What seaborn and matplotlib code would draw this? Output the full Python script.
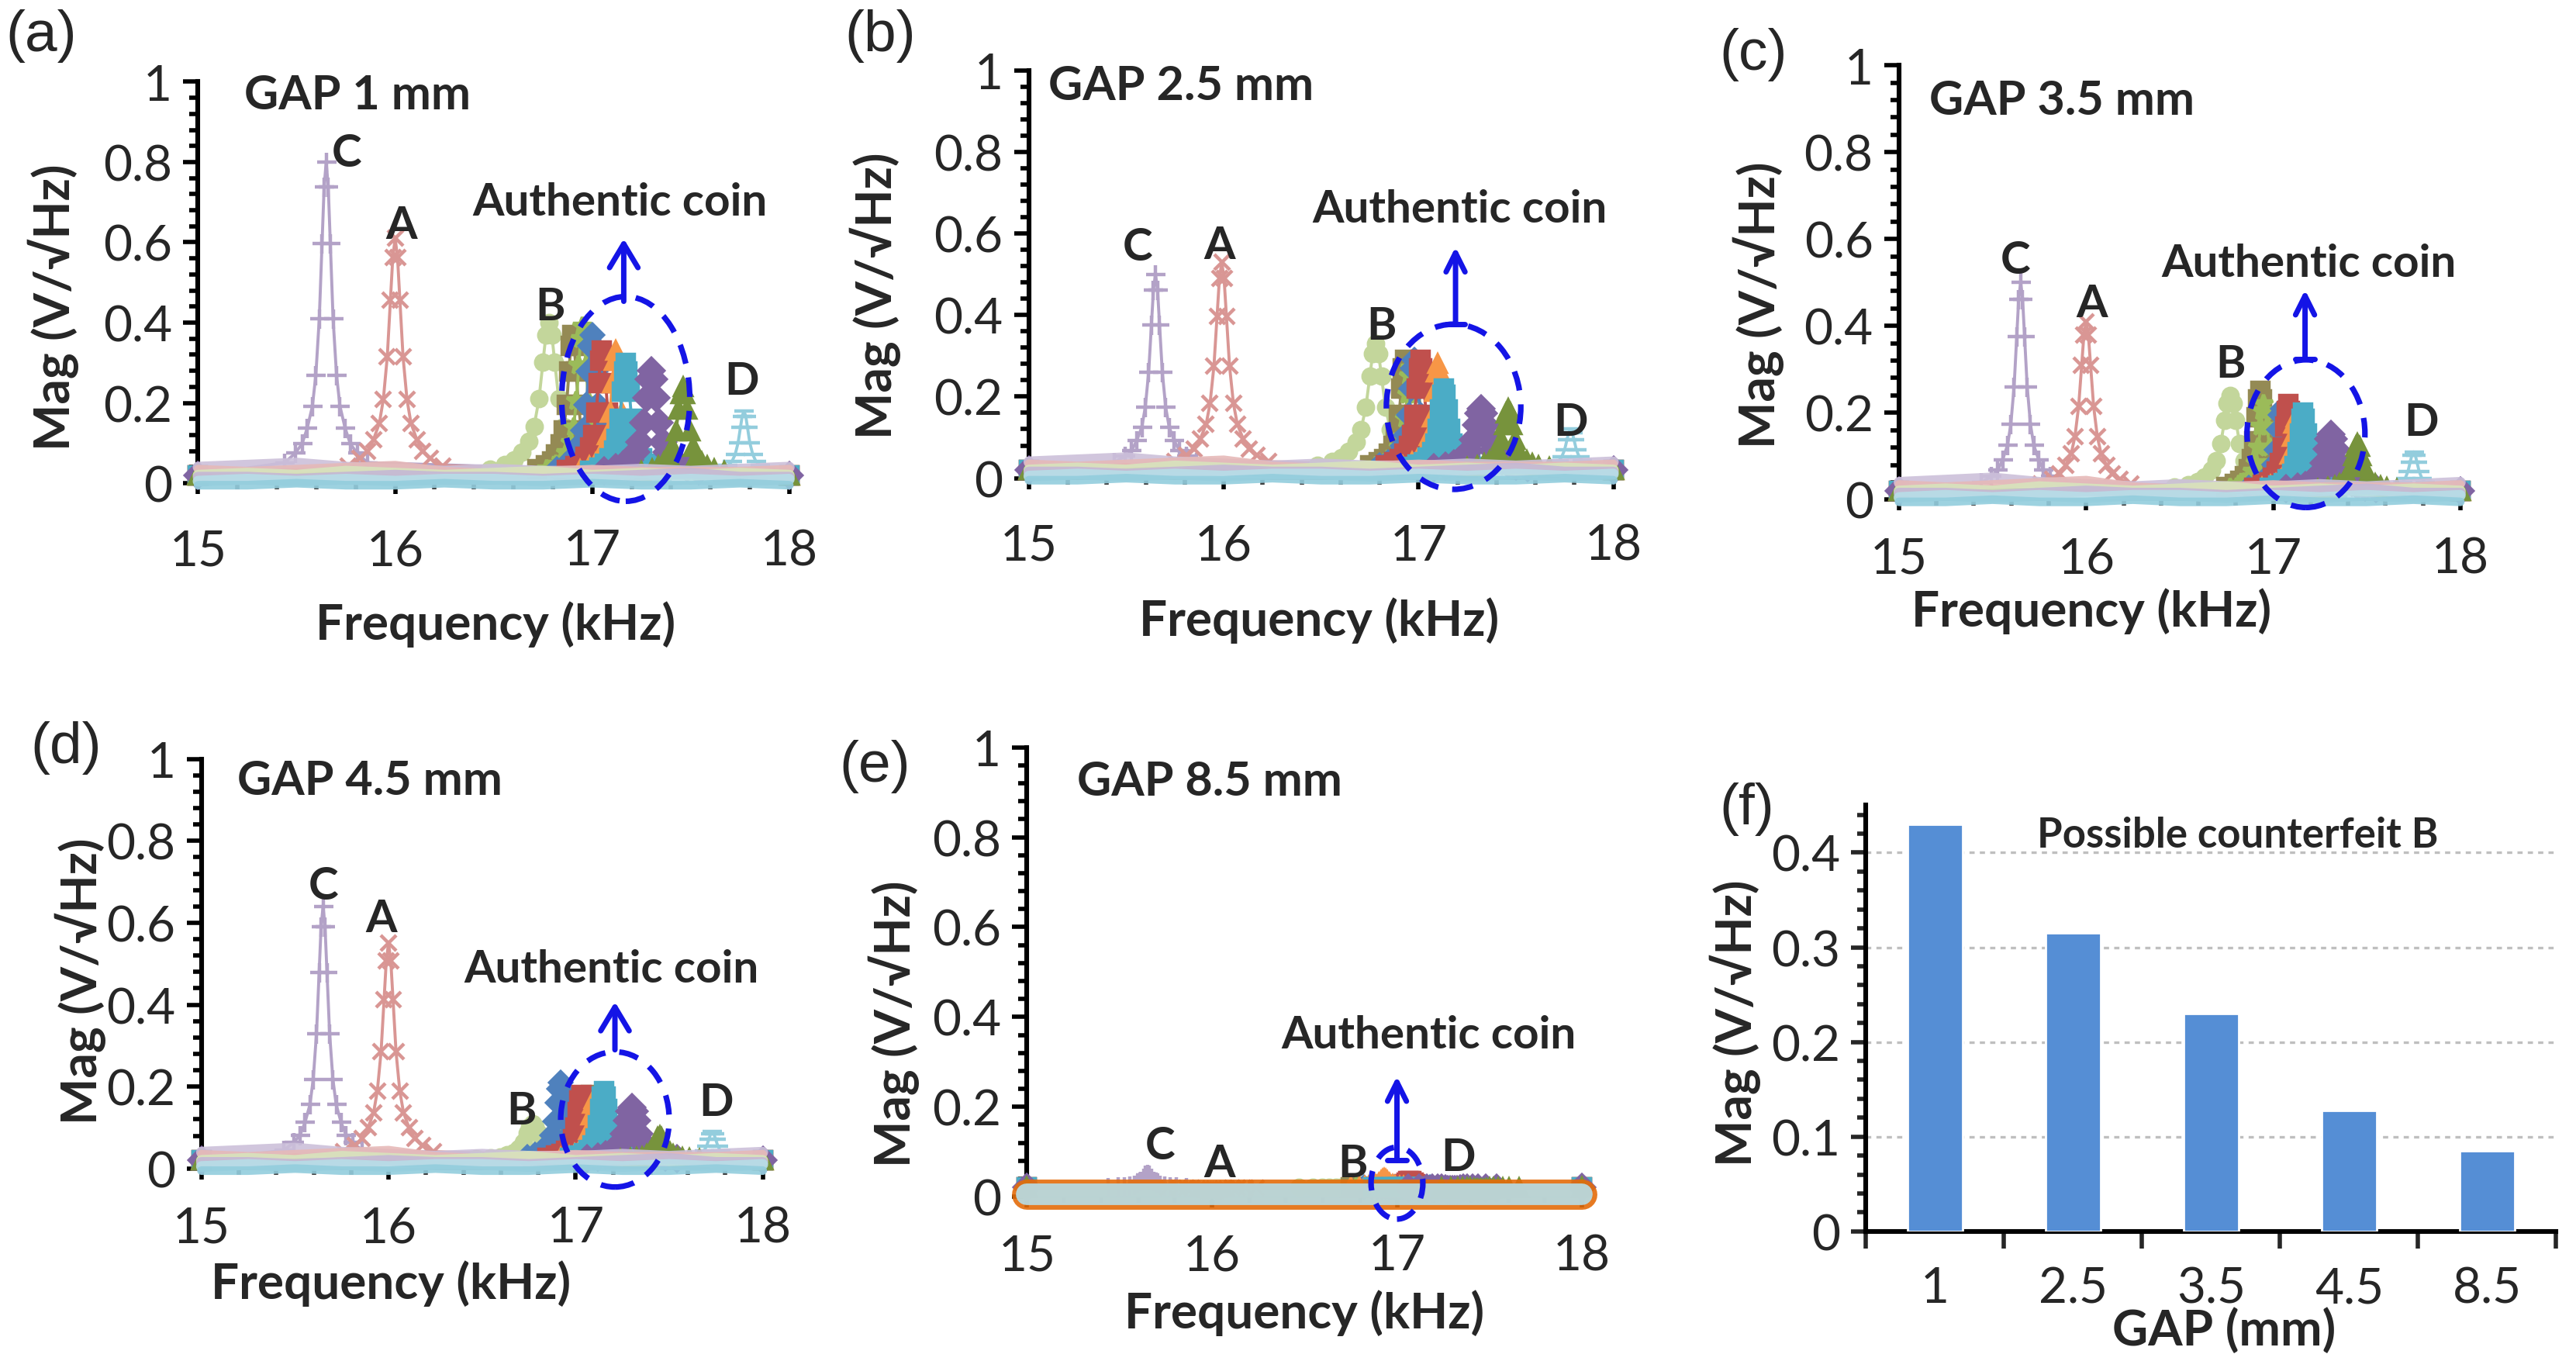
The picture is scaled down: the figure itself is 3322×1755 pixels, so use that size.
import numpy as np
import pandas as pd
import matplotlib
matplotlib.use('Agg')
import matplotlib.pyplot as plt
import seaborn as sns
from matplotlib.patches import Ellipse
from matplotlib.ticker import AutoMinorLocator, FuncFormatter, MultipleLocator

sns.set_style('ticks')
plt.rcParams['font.family'] = ['Lato', 'DejaVu Sans']

# ---- data ----
SERIES = ['C', 'A', 'B', 'D', 'K1', 'K2', 'K3', 'K4', 'K5', 'K6', 'K7', 'K8']

# shared resonance profile (offset in half-widths, fraction of peak height)
PEAK_OFFSETS = [-6, -4.5, -3.5, -2.75, -2, -1.5, -1, -0.6, -0.3, 0,
                0.3, 0.6, 1, 1.5, 2, 2.75, 3.5, 4.5, 6]
PEAK_SHAPE = [0.04, 0.07, 0.1, 0.15, 0.22, 0.32, 0.5, 0.74, 0.92, 1,
              0.92, 0.74, 0.5, 0.32, 0.22, 0.15, 0.1, 0.07, 0.04]
HALF_WIDTH = [0.035, 0.04, 0.05, 0.03, 0.03, 0.03, 0.03, 0.03, 0.03, 0.03, 0.04, 0.035]

# peak centres (kHz) and peak magnitudes for every gap
CENTERS_1 = [15.65, 16.0, 16.78, 17.77, 16.9, 16.95, 17.0, 17.05, 17.12, 17.17, 17.3, 17.46]
HEIGHTS_1 = [0.80, 0.61, 0.40, 0.18, 0.37, 0.39, 0.37, 0.33, 0.33, 0.30, 0.28, 0.24]
CENTERS_25 = [15.65, 15.99, 16.78, 17.78, 16.93, 16.96, 16.98, 17.01, 17.1, 17.13, 17.32, 17.46]
HEIGHTS_25 = [0.50, 0.53, 0.33, 0.12, 0.29, 0.27, 0.29, 0.29, 0.28, 0.22, 0.17, 0.17]
CENTERS_35 = [15.65, 16.0, 16.77, 17.75, 16.93, 16.95, 17.05, 17.08, 17.12, 17.16, 17.31, 17.45]
HEIGHTS_35 = [0.50, 0.41, 0.24, 0.11, 0.25, 0.22, 0.21, 0.22, 0.19, 0.20, 0.15, 0.13]
CENTERS_45 = [15.65, 16.0, 16.77, 17.73, 17.08, 16.96, 16.92, 17.03, 17.1, 17.15, 17.3, 17.45]
HEIGHTS_45 = [0.64, 0.55, 0.11, 0.09, 0.18, 0.19, 0.21, 0.18, 0.17, 0.19, 0.15, 0.08]
CENTERS_85 = [15.65, 16.0, 16.77, 17.3, 16.93, 16.96, 17.0, 17.07, 16.93, 17.05, 17.3, 17.45]
HEIGHTS_85 = [0.05, 0.01, 0.025, 0.01, 0.02, 0.02, 0.02, 0.035, 0.04, 0.02, 0.015, 0.015]

# noise floor
NOISE_FREQ = [15.0, 15.25, 15.5, 15.75, 16.0, 16.25, 16.5, 16.75, 17.0, 17.25, 17.5, 17.75, 18.0]
NOISE_1 = [0.040, 0.045, 0.050, 0.040, 0.035, 0.030, 0.035, 0.030, 0.030, 0.035, 0.030, 0.035, 0.040]
NOISE_2 = [0.035, 0.030, 0.035, 0.040, 0.045, 0.030, 0.025, 0.030, 0.035, 0.030, 0.030, 0.030, 0.035]
NOISE_3 = [0.020, 0.025, 0.020, 0.030, 0.025, 0.020, 0.025, 0.030, 0.020, 0.025, 0.020, 0.025, 0.020]
NOISE_4 = [0.015, 0.015, 0.010, 0.015, 0.020, 0.015, 0.015, 0.010, 0.015, 0.020, 0.025, 0.015, 0.015]
NOISE_5 = [0.005, 0.010, 0.005, 0.010, 0.005, 0.010, 0.010, 0.005, 0.010, 0.005, 0.010, 0.005, 0.010]
NOISE_6 = [-0.005, -0.005, 0.000, -0.005, -0.005, 0.000, -0.005, -0.005, 0.000, -0.005, -0.005, 0.000, -0.005]
NOISE_85 = [0.006, 0.006, 0.006, 0.006, 0.006, 0.006, 0.006, 0.006, 0.006, 0.006, 0.006, 0.006, 0.006]

# panel (f)
GAPS = ['1', '2.5', '3.5', '4.5', '8.5']
MAG_B = [0.43, 0.315, 0.23, 0.128, 0.085]

# ---- styles ----
COLORS = ['#B3A2C7', '#D99694', '#C3D69B', '#93CDDD', '#948A54', '#9BBB59',
          '#4F81BD', '#C0504D', '#F79646', '#4BACC6', '#8064A2', '#77933C']
MARKERS = ['+', 'x', 'o', '_', 's', '*', 'D', 's', '^', 's', 'D', '^']
MSIZES = [9, 7, 7, 9, 8, 9, 7, 8, 8, 8, 8, 8]
NOISE_COLORS = ['#CCC0DA', '#E6B9B8', '#D7E4BD', '#C5B7D5', '#B7DEE8', '#93CDDD']
BLUE = '#1414E6'

fig = plt.figure(figsize=(16.61, 8.78), dpi=200)

rects = {
    'a': [0.0769, 0.6446, 0.2295, 0.2948],
    'b': [0.3994, 0.6483, 0.2269, 0.2995],
    'c': [0.7372, 0.6325, 0.2179, 0.3190],
    'd': [0.0782, 0.1413, 0.2179, 0.3008],
    'e': [0.3987, 0.1207, 0.2154, 0.3299],
    'f': [0.7244, 0.0952, 0.2679, 0.3129],
}

TICK_FS = 23
LAB_FS = 23
TXT_FS = 21


def center_labels(ax):
    ax.xaxis.label.set_va('center')
    ax.yaxis.label.set_va('center')


def draw_spectrum(ax, centers, heights, noise_sets, noise_colors, noise_lw):
    base = 0.02
    for i in range(len(SERIES)):
        c, h, w = centers[i], heights[i], HALF_WIDTH[i]
        x = [15.0] + [c + w * o for o in PEAK_OFFSETS] + [18.0]
        y = [base] + [base + (h - base) * s for s in PEAK_SHAPE] + [base]
        sns.lineplot(x=x, y=y, ax=ax, color=COLORS[i], marker=MARKERS[i],
                     markersize=MSIZES[i], mec=COLORS[i], mew=1.6, lw=1.4,
                     sort=False, estimator=None, clip_on=False, zorder=3)
    for lev, col, lw in zip(noise_sets, noise_colors, noise_lw):
        sns.lineplot(x=NOISE_FREQ, y=lev, ax=ax, color=col, lw=lw,
                     alpha=0.9, sort=False, estimator=None, clip_on=False,
                     solid_capstyle='round', zorder=4)

    ax.set_xlim(15, 18)
    ax.set_ylim(0, 1)
    ax.xaxis.set_major_locator(MultipleLocator(1))
    ax.xaxis.set_minor_locator(AutoMinorLocator(5))
    ax.yaxis.set_major_locator(MultipleLocator(0.2))
    ax.yaxis.set_minor_locator(AutoMinorLocator(5))
    ax.yaxis.set_major_formatter(FuncFormatter(lambda v, p: f'{v:g}'))
    ax.xaxis.set_major_formatter(FuncFormatter(lambda v, p: f'{v:g}'))
    sns.despine(ax=ax)
    ax.spines['left'].set_linewidth(2.2)
    ax.spines['left'].set_color('black')
    ax.spines['bottom'].set_linewidth(1.0)
    ax.spines['bottom'].set_color('#9F9F9F')
    ax.tick_params(axis='y', which='major', length=7, width=2, direction='out',
                   labelsize=TICK_FS, pad=5, colors='black', labelcolor='#262626')
    ax.tick_params(axis='y', which='minor', length=4, width=2, direction='out', colors='black')
    ax.tick_params(axis='x', which='major', length=5, width=2, direction='out',
                   labelsize=TICK_FS, pad=16, colors='black', labelcolor='#262626')
    ax.tick_params(axis='x', which='minor', length=3, width=2, direction='out', colors='#404040')
    ax.set_xlabel('Frequency (kHz)', fontsize=LAB_FS, fontweight='bold')
    ax.set_ylabel('Mag (V/√Hz)', fontsize=LAB_FS, fontweight='bold')
    center_labels(ax)


def annotate_panel(ax, gap_xy, gap_text, labels, coin_xy, arrow, ell, bar):
    ax.text(gap_xy[0], gap_xy[1], gap_text, fontsize=TXT_FS + 1, fontweight='bold',
            ha='left', va='center', zorder=6)
    for (t, x, y) in labels:
        ax.text(x, y, t, fontsize=TXT_FS, fontweight='bold', ha='center',
                va='center', zorder=6)
    ax.text(coin_xy[0], coin_xy[1], 'Authentic coin', fontsize=TXT_FS,
            fontweight='bold', ha='center', va='center', zorder=6)
    style = ']->,widthA=0.2,lengthA=0' if bar else '->,head_length=0.5,head_width=0.3'
    ax.annotate('', xy=(arrow[0], arrow[2]), xytext=(arrow[0], arrow[1]),
                arrowprops=dict(arrowstyle=style, color=BLUE, lw=2.5,
                                shrinkA=0, shrinkB=0, mutation_scale=22),
                annotation_clip=False, zorder=7)
    ax.add_patch(Ellipse((ell[0], ell[1]), ell[2], ell[3], fill=False,
                         ec=BLUE, lw=2.6, ls=(0, (3.5, 2.5)), clip_on=False, zorder=8))


base_noise = [NOISE_1, NOISE_2, NOISE_3, NOISE_4, NOISE_5, NOISE_6]
base_lw = [5, 4, 5, 5, 5, 4]

# (a) GAP 1 mm
ax = fig.add_axes(rects['a'])
draw_spectrum(ax, CENTERS_1, HEIGHTS_1, base_noise, NOISE_COLORS, base_lw)
annotate_panel(ax, (15.235, 0.967), 'GAP 1 mm',
               [('C', 15.754, 0.823), ('A', 16.03, 0.642), ('B', 16.785, 0.44), ('D', 17.76, 0.255)],
               (17.14, 0.70), (17.16, 0.453, 0.609), (17.17, 0.21, 0.65, 0.51), False)
ax.xaxis.set_label_coords(0.503, -0.35)
ax.yaxis.set_label_coords(-0.245, 0.44)

# (b) GAP 2.5 mm
ax = fig.add_axes(rects['b'])
draw_spectrum(ax, CENTERS_25, HEIGHTS_25, base_noise, NOISE_COLORS, base_lw)
annotate_panel(ax, (15.10, 0.964), 'GAP 2.5 mm',
               [('C', 15.56, 0.567), ('A', 15.98, 0.571), ('B', 16.81, 0.372), ('D', 17.78, 0.138)],
               (17.21, 0.66), (17.19, 0.377, 0.567), (17.18, 0.175, 0.69, 0.405), True)
ax.xaxis.set_label_coords(0.496, -0.348)
ax.yaxis.set_label_coords(-0.263, 0.45)

# (c) GAP 3.5 mm
ax = fig.add_axes(rects['c'])
draw_spectrum(ax, CENTERS_35, HEIGHTS_35, base_noise, NOISE_COLORS, base_lw)
annotate_panel(ax, (15.16, 0.92), 'GAP 3.5 mm',
               [('C', 15.62, 0.551), ('A', 16.03, 0.452), ('B', 16.77, 0.312), ('D', 17.79, 0.179)],
               (17.19, 0.544), (17.17, 0.323, 0.483), (17.175, 0.152, 0.63, 0.34), True)
ax.tick_params(axis='x', which='major', pad=12)
ax.xaxis.set_label_coords(0.343, -0.255)
ax.yaxis.set_label_coords(-0.25, 0.45)

# (d) GAP 4.5 mm
ax = fig.add_axes(rects['d'])
draw_spectrum(ax, CENTERS_45, HEIGHTS_45, base_noise, NOISE_COLORS, base_lw)
annotate_panel(ax, (15.19, 0.948), 'GAP 4.5 mm',
               [('C', 15.65, 0.69), ('A', 15.96, 0.61), ('B', 16.71, 0.141), ('D', 17.75, 0.161)],
               (17.19, 0.488), (17.21, 0.29, 0.407), (17.21, 0.12, 0.58, 0.33), False)
ax.tick_params(axis='x', which='major', pad=12)
ax.xaxis.set_label_coords(0.338, -0.278)
ax.yaxis.set_label_coords(-0.215, 0.46)

# (e) GAP 8.5 mm
ax = fig.add_axes(rects['e'])
draw_spectrum(ax, CENTERS_85, HEIGHTS_85, [NOISE_85, NOISE_85],
              ['#E46C0A', '#B7DEE8'], [14, 10])
annotate_panel(ax, (15.27, 0.926), 'GAP 8.5 mm',
               [('C', 15.72, 0.114), ('A', 16.04, 0.074), ('B', 16.76, 0.074), ('D', 17.33, 0.088)],
               (17.17, 0.36), (17.0, 0.081, 0.268), (17.0, 0.03, 0.28, 0.16), True)
ax.tick_params(axis='x', which='major', pad=12)
ax.xaxis.set_label_coords(0.5, -0.257)
ax.yaxis.set_label_coords(-0.24, 0.386)

# (f) bar chart of possible counterfeit B
ax = fig.add_axes(rects['f'])
df_b = pd.DataFrame({'gap': GAPS, 'mag': MAG_B})
ax.grid(axis='y', color='#BFBFBF', ls=(0, (2, 2)), lw=1.2, zorder=0)
sns.barplot(data=df_b, x='gap', y='mag', order=GAPS, color='#558ED5',
            width=0.4, saturation=1, ax=ax, zorder=3)
ax.set_ylim(0, 0.45)
ax.set_xlim(-0.5, 4.5)
ax.yaxis.set_major_locator(MultipleLocator(0.1))
ax.yaxis.set_minor_locator(AutoMinorLocator(5))
ax.yaxis.set_major_formatter(FuncFormatter(lambda v, p: f'{v:g}'))
ax.set_xticks(np.arange(-0.5, 5, 1), minor=True)
sns.despine(ax=ax)
for s in ['left', 'bottom']:
    ax.spines[s].set_linewidth(2.2)
    ax.spines[s].set_color('black')
ax.tick_params(axis='y', which='major', length=7, width=2, direction='out',
               labelsize=TICK_FS, pad=5, labelcolor='#262626')
ax.tick_params(axis='y', which='minor', length=4, width=2, direction='out')
ax.tick_params(axis='x', which='major', length=0, labelsize=TICK_FS, pad=16, labelcolor='#262626')
ax.tick_params(axis='x', which='minor', length=8, width=2, direction='out')
ax.set_xlabel('GAP (mm)', fontsize=LAB_FS, fontweight='bold')
ax.set_ylabel('Mag (V/√Hz)', fontsize=LAB_FS, fontweight='bold')
center_labels(ax)
ax.xaxis.set_label_coords(0.519, -0.229)
ax.yaxis.set_label_coords(-0.19, 0.49)
ax.text(2.19, 0.419, 'Possible counterfeit B', fontsize=TXT_FS - 2,
        fontweight='bold', ha='center', va='center', zorder=6)

# panel letters
letters = [('(a)', 25, 22), ('(b)', 533, 22), ('(c)', 1062, 33),
           ('(d)', 40, 453), ('(e)', 530, 464), ('(f)', 1058, 490)]
for t, px, py in letters:
    fig.text(px / 1560, 1 - py / 824.5, t, fontsize=27, ha='center', va='center',
             family=['Liberation Sans', 'DejaVu Sans'])

fig.savefig('out.png', dpi=200)
